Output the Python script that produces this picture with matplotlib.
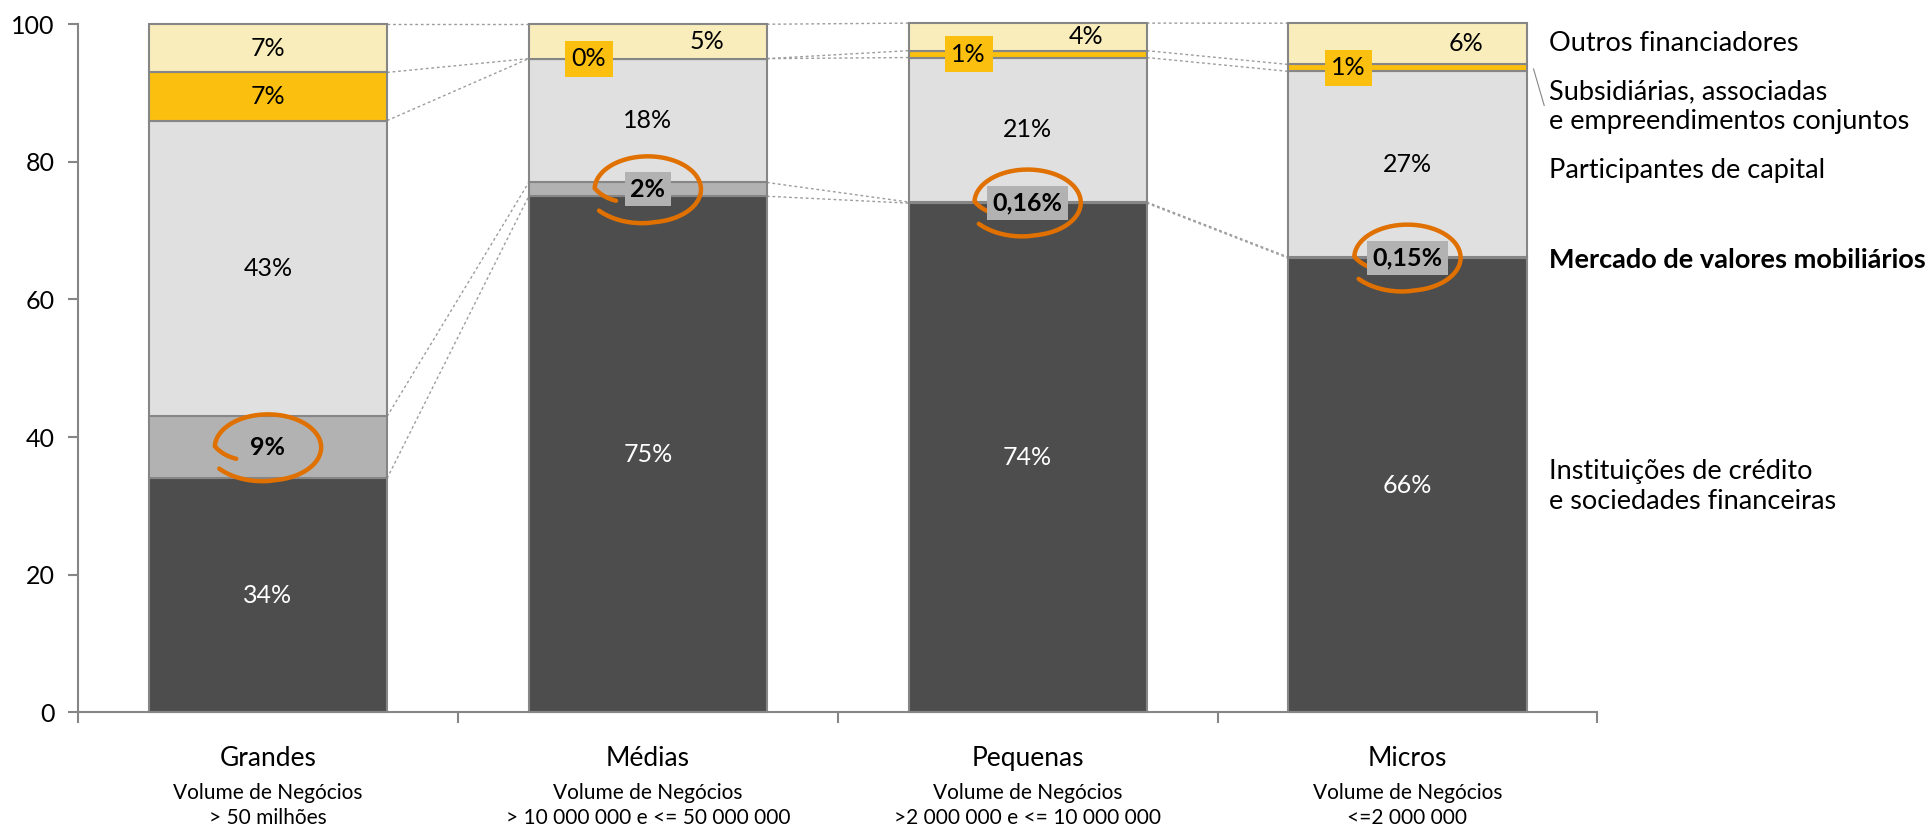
import matplotlib.pyplot as plt
import numpy as np

plt.rcParams['font.family'] = ['Lato', 'DejaVu Sans']

categorias = ["Grandes", "Médias", "Pequenas", "Micros"]
subtitulos = ["Volume de Negócios\n> 50 milhões",
              "Volume de Negócios\n> 10 000 000 e <= 50 000 000",
              "Volume de Negócios\n>2 000 000 e <= 10 000 000",
              "Volume de Negócios\n<=2 000 000"]

# percentagens por tipo de financiador (de baixo para cima)
instituicoes = [34, 75, 74, 66]
mercado = [9, 2, 0.16, 0.15]
participantes = [43, 18, 21, 27]
subsidiarias = [7, 0, 1, 1]
outros = [7, 5, 4, 6]

rotulos_mercado = ["9%", "2%", "0,16%", "0,15%"]

series = [instituicoes, mercado, participantes, subsidiarias, outros]
cores = ["#4D4D4D", "#B2B2B2", "#E0E0E0", "#FBBF0F", "#F9EDBB"]
legendas = ["Instituições de crédito\ne sociedades financeiras",
            "Mercado de valores mobiliários",
            "Participantes de capital",
            "Subsidiárias, associadas\ne empreendimentos conjuntos",
            "Outros financiadores"]
legenda_y = [32.8, 65.7, 78.8, 88.0, 97.2]

cinza = "#868686"
laranja = "#E07000"
largura = 0.627
fs = 18


def laco(ax, xc, yc, a=0.14, b=4.8):
    # circulo desenhado a mao em volta de um rotulo
    t0, t1 = np.radians(210), np.radians(-145)
    t = np.linspace(t0, t1, 300)
    r = 0.69 + 0.31 * np.clip((t0 - t) / np.radians(32), 0, 1)
    r = r + 0.12 * np.clip((np.radians(-80) - t) / np.radians(65), 0, 1)
    ax.plot(xc + a * r * np.cos(t), yc + b * r * np.sin(t), color=laranja,
            lw=3.2, solid_capstyle='round', clip_on=False, zorder=5)


fig = plt.figure(figsize=(19.28, 8.27), dpi=100)
ax = fig.add_axes([0.0405, 0.1387, 0.788, 0.832])

x = np.arange(len(categorias))
base = np.zeros(len(categorias))
topos = []
for valores, cor in zip(series, cores):
    valores = np.array(valores, dtype=float)
    ax.bar(x, valores, largura, bottom=base, color=cor, edgecolor=cinza,
           linewidth=1.5, zorder=2, clip_on=False)
    topos.append(base + valores)
    base = base + valores

# linhas de ligacao entre barras
for topo in topos:
    for i in range(len(x) - 1):
        ax.plot([x[i] + largura / 2, x[i + 1] - largura / 2], [topo[i], topo[i + 1]],
                color="#9C9C9C", lw=1, dashes=(2, 2), zorder=1, clip_on=False)

# rotulos dos segmentos
for s, valores in enumerate(series):
    for i, v in enumerate(valores):
        yc = topos[s][i] - v / 2
        xc = x[i]
        kw = dict(ha='center', va='center', fontsize=fs, zorder=6)
        if s == 0:
            ax.text(xc, yc, f"{v:.0f}%", color='white', **kw)
        elif s == 1:
            box = None if i == 0 else dict(boxstyle='square,pad=0.22', fc=cores[1], ec='none')
            ax.text(xc, yc, rotulos_mercado[i], fontweight='bold', bbox=box, **kw)
            laco(ax, xc, yc)
        elif s == 2:
            ax.text(xc, yc, f"{v:.0f}%", **kw)
        elif s == 3:
            if i == 0:
                ax.text(xc, yc, f"{v:.0f}%", **kw)
            else:
                ax.text(xc - 0.155, yc, f"{v:.0f}%",
                        bbox=dict(boxstyle='square,pad=0.26', fc=cores[3], ec='none'), **kw)
        else:
            dx = 0 if i == 0 else 0.155
            ax.text(xc + dx, yc, f"{v:.0f}%", **kw)

# legenda a direita
for s, (txt, ly) in enumerate(zip(legendas, legenda_y)):
    ax.text(3.374, ly, txt, ha='left', va='center', fontsize=19.5, linespacing=1.25,
            fontweight='bold' if s == 1 else 'normal', clip_on=False)
ax.plot([3.332, 3.36], [93.5, 88.2], color=cinza, lw=0.8, clip_on=False)

# categorias
for i, (cat, sub) in enumerate(zip(categorias, subtitulos)):
    ax.text(x[i], -6.7, cat, ha='center', va='center', fontsize=19, clip_on=False)
    ax.text(x[i], -13.5, sub, ha='center', va='center', fontsize=15,
            linespacing=1.3, clip_on=False)

ax.set_xlim(-0.5, 3.5)
ax.set_ylim(0, 100)
ax.set_yticks(range(0, 101, 20))
ax.set_xticks(np.arange(-0.5, 4, 1))
ax.set_xticklabels([])
ax.tick_params(axis='y', labelsize=fs, length=7, width=1.5, color=cinza, pad=10)
ax.tick_params(axis='x', length=8, width=1.5, color=cinza)
for lado in ['top', 'right']:
    ax.spines[lado].set_visible(False)
for lado in ['left', 'bottom']:
    ax.spines[lado].set_color(cinza)
    ax.spines[lado].set_linewidth(1.5)

plt.savefig("out.png", dpi=100)
